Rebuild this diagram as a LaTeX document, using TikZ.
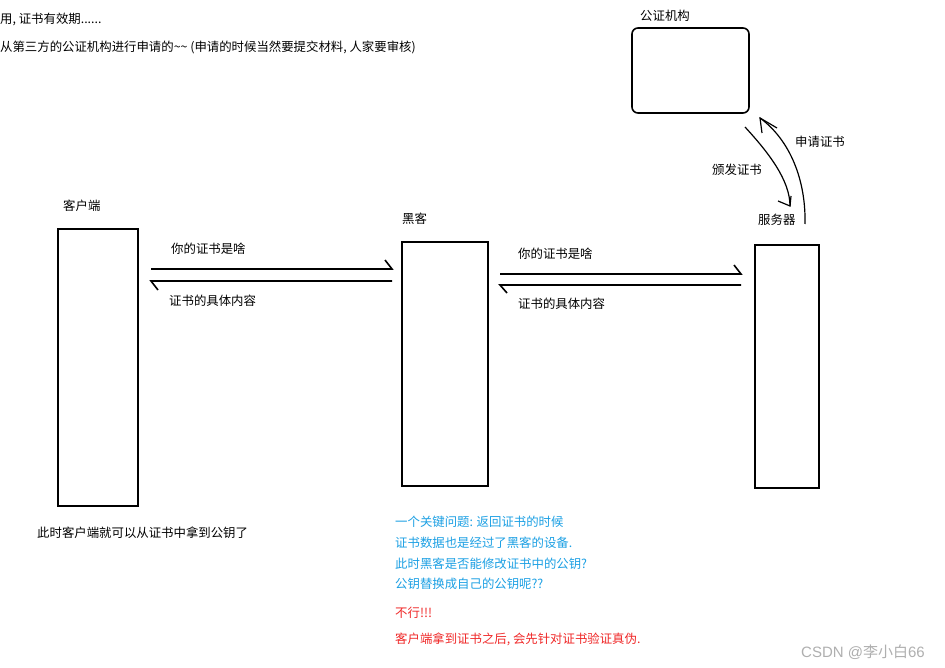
\documentclass[tikz,border=0pt]{standalone}
\usepackage{fontspec}
\setmainfont{Noto Sans CJK SC}
\newfontfamily\wmfont{Liberation Sans}
\definecolor{noteblue}{RGB}{28,160,228}
\definecolor{notered}{RGB}{240,40,40}
\definecolor{wmgray}{RGB}{175,175,175}
\begin{document}
\begin{tikzpicture}[x=1pt,y=-1pt,
  lbl/.style={anchor=west,inner sep=0pt,font=\fontsize{12.4}{15}\selectfont},
  blue/.style={lbl,text=noteblue},
  red/.style={lbl,text=notered},
  lifebox/.style={draw,line width=1.6pt,inner sep=0pt},
  msg/.style={line width=1.6pt},
  curv/.style={line width=1.2pt}]
\useasboundingbox (0,0) rectangle (945,668);
\fill[white] (0,0) rectangle (945,668);

% top-left notes
\node[lbl] (t1) at (0,19) {用, 证书有效期......};
\node[lbl] (t2) at (0,47) {从第三方的公证机构进行申请的\textasciitilde\textasciitilde{} (申请的时候当然要提交材料, 人家要审核)};

% boxes
\node[lifebox,minimum width=80pt,minimum height=277pt] (client) at (98,367.5) {};
\node[lifebox,minimum width=86pt,minimum height=244pt] (hacker) at (445,364) {};
\node[lifebox,minimum width=64pt,minimum height=243pt] (server) at (787,366.5) {};
\node[lifebox,rounded corners=6pt,minimum width=117pt,minimum height=85pt] (ca) at (690.5,70.5) {};

\node[lbl] (lc) at (63,206) {客户端};
\node[lbl] (lh) at (402,219) {黑客};
\node[lbl] (ls) at (758,220) {服务器};
\node[lbl] (lca) at (640,16) {公证机构};

% messages client <-> hacker
\coordinate (a1s) at (151,269); \coordinate (a1e) at (392,269); \coordinate (a1h) at (385,260);
\coordinate (b1s) at (392,281); \coordinate (b1e) at (151,281); \coordinate (b1h) at (158,290);
\draw[msg] (a1s) -- (a1e) -- (a1h);
\draw[msg] (b1s) -- (b1e) -- (b1h);
\node[lbl] (m1) at (171,249) {你的证书是啥};
\node[lbl] (m2) at (169,301) {证书的具体内容};

% messages hacker <-> server
\coordinate (a2s) at (500,274); \coordinate (a2e) at (741,274); \coordinate (a2h) at (734,265);
\coordinate (b2s) at (741,285); \coordinate (b2e) at (500,285); \coordinate (b2h) at (507,293);
\draw[msg] (a2s) -- (a2e) -- (a2h);
\draw[msg] (b2s) -- (b2e) -- (b2h);
\node[lbl] (m3) at (518,254) {你的证书是啥};
\node[lbl] (m4) at (518,304) {证书的具体内容};

% CA <-> server curved arrows
\coordinate (iss) at (745,127); \coordinate (ise) at (790,206);
\draw[curv] (iss) .. controls (768,152) and (790,180) .. (ise);
\coordinate (ih1) at (778,201); \coordinate (ih2) at (791,196);
\draw[curv] (ih1) -- (ise) -- (ih2);
\coordinate (rqs) at (805,224); \coordinate (rqe) at (760,118);
\draw[curv] (rqs) .. controls (806,180) and (790,140) .. (rqe);
\coordinate (rh1) at (762,133); \coordinate (rh2) at (777,128);
\draw[curv] (rh1) -- (rqe) -- (rh2);
\node[lbl] (l1) at (795,142) {申请证书};
\node[lbl] (l2) at (712,170) {颁发证书};

% bottom notes
\node[lbl] (n0) at (37,533) {此时客户端就可以从证书中拿到公钥了};
\node[blue] (n1) at (395,522) {一个关键问题: 返回证书的时候};
\node[blue] (n2) at (395,543) {证书数据也是经过了黑客的设备.};
\node[blue] (n3) at (395,564) {此时黑客是否能修改证书中的公钥?};
\node[blue] (n4) at (395,584) {公钥替换成自己的公钥呢??};
\node[red] (n5) at (395,613) {不行!!!};
\node[red] (n6) at (395,639) {客户端拿到证书之后, 会先针对证书验证真伪.};

\node[lbl,text=wmgray,font=\fontsize{15}{18}\selectfont] (wm) at (801,652) {{\wmfont CSDN @}李小白{\wmfont 66}};
\end{tikzpicture}
\end{document}
